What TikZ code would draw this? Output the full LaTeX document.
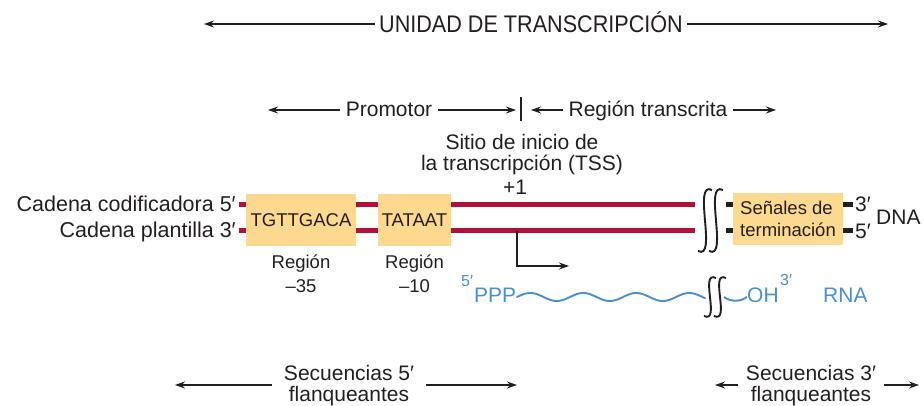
\documentclass[tikz,border=0pt]{standalone}
\usepackage{fontspec}
\setmainfont{Liberation Sans}
\usetikzlibrary{arrows.meta,decorations.pathmorphing}
\definecolor{dnared}{HTML}{B0103A}
\definecolor{boxfill}{HTML}{FDD88F}
\definecolor{rnablue}{HTML}{4A8FD0}
\definecolor{ink}{HTML}{231F20}
\begin{document}
\begin{tikzpicture}[x=1pt,y=-1pt,
  every node/.style={text=ink, inner sep=0pt},
  big/.style={font=\fontsize{21}{25}\selectfont},
  lab/.style={font=\fontsize{21.5}{25}\selectfont},
  mid/.style={font=\fontsize{18.5}{22}\selectfont},
  sup/.style={font=\fontsize{16}{18}\selectfont},
  arr/.style={-{Stealth[length=10pt,width=7pt]}, line width=1.1pt, draw=ink},
  strand/.style={line width=5pt, draw=dnared},
  seqbox/.style={fill=boxfill, minimum height=52pt, inner sep=0pt, font=\fontsize{18.5}{22}\selectfont},
  stub/.style={line width=5pt, draw=ink},
  brk/.style={line width=1.9pt, draw=ink},
  rnatext/.style={text=rnablue, font=\fontsize{21}{25}\selectfont},
  rnaline/.style={draw=rnablue, line width=1.9pt}]
\useasboundingbox (0,0) rectangle (924,406);

% ---- title ----
\node[font=\fontsize{24}{28}\selectfont, xscale=0.9, inner xsep=5pt, anchor=base] (title) at (531,33) {UNIDAD DE TRANSCRIPCIÓN};
\coordinate (tL) at (204,24);
\coordinate (tR) at (888,24);
\draw[arr] (title.west |- tL) -- (tL);
\draw[arr] (title.east |- tR) -- (tR);

% ---- promotor / region transcrita ----
\node[big, anchor=base, inner xsep=6pt] (prom) at (389,117) {Promotor};
\coordinate (pL) at (268,110);
\coordinate (pR) at (516,110);
\draw[arr] (prom.west |- pL) -- (pL);
\draw[arr] (prom.east |- pR) -- (pR);
\coordinate (barT) at (521,97);
\coordinate (barB) at (521,121);
\draw[line width=1.1pt, draw=ink] (barT) -- (barB);
\node[big, anchor=base, inner xsep=5pt] (rtr) at (648,117) {Región transcrita};
\coordinate (rL) at (531,110);
\coordinate (rR) at (776,110);
\draw[arr] (rtr.west |- rL) -- (rL);
\draw[arr] (rtr.east |- rR) -- (rR);

% ---- TSS ----
\node[big, anchor=base] (tss1) at (522,150) {Sitio de inicio de};
\node[big, anchor=base] (tss2) at (522,171) {la transcripción (TSS)};
\node[big, anchor=base] (plus) at (515,195) {+1};

% ---- DNA strands ----
\coordinate (c1L) at (239,205);
\coordinate (c1R) at (695,205);
\coordinate (c2L) at (239,231);
\coordinate (c2R) at (695,231);
\draw[strand] (c1L) -- (c1R);
\draw[strand] (c2L) -- (c2R);

\node[lab, anchor=base east] (lab1) at (236,212) {Cadena codificadora 5′};
\node[lab, anchor=base east] (lab2) at (236,238) {Cadena plantilla 3′};

\node[seqbox, minimum width=110pt] (b35) at (301,220) {TGTTGACA};
\node[seqbox, minimum width=73pt] (b10) at (414.5,220) {TATAAT};

\node[mid, anchor=base] (r35a) at (301,269) {Región};
\node[mid, anchor=base] (r35b) at (301,293) {–35};
\node[mid, anchor=base] (r10a) at (414.5,269) {Región};
\node[mid, anchor=base] (r10b) at (414.5,293) {–10};

% break on DNA
\foreach \c in {705,716}{
  \draw[brk] (\c+7,190) .. controls (\c-13,180) and (\c+13,261) .. (\c-7,251);
}

% termination box and stubs
\node[seqbox, minimum width=110pt, align=left, font=\fontsize{18.5}{22}\selectfont] (term) at (788,219) {Señales de\\terminación};
\coordinate (s1a) at (726,205);
\coordinate (s2a) at (726,231);
\coordinate (s1b) at (853,205);
\coordinate (s2b) at (853,231);
\draw[stub] (s1a) -- (term.west |- s1a);
\draw[stub] (s2a) -- (term.west |- s2a);
\draw[stub] (term.east |- s1b) -- (s1b);
\draw[stub] (term.east |- s2b) -- (s2b);
\node[big, anchor=base west] (e3) at (855,212) {3′};
\node[big, anchor=base west] (e5) at (855,239) {5′};
\node[big, anchor=base west] (dna) at (876,225) {DNA};

% ---- start arrow ----
\coordinate (st0) at (517,231);
\coordinate (st1) at (517,266);
\coordinate (st2) at (569,266);
\draw[arr] (st0) -- (st1) -- (st2);

% ---- RNA ----
\node[sup, text=rnablue, anchor=base west] (r5) at (461,287) {5′};
\node[rnatext, anchor=base west] (ppp) at (474,302) {PPP};
\draw[rnaline, line cap=round] plot[domain=0:188, samples=150, smooth] ({517+\x}, {297 - 4*sin(\x/53*360)});
\foreach \c in {710,720}{
  \draw[brk] (\c+6,278) .. controls (\c-11,270) and (\c+11,324) .. (\c-6,316);
}
\node[rnatext, anchor=base west] (oh) at (747,302) {OH};
\coordinate (w2) at (724,297);
\draw[rnaline] (w2) .. controls (731,302) and (740,302) .. (oh.west |- w2);
\node[sup, text=rnablue, anchor=base west] (r3) at (780,286) {3′};
\node[rnatext, anchor=base west] (rna) at (823,302) {RNA};

% ---- flanking ----
\node[big, anchor=base, inner xsep=12pt] (f5a) at (349,380) {Secuencias 5′};
\node[big, anchor=base] (f5b) at (349,401) {flanqueantes};
\coordinate (f5L) at (175,385);
\coordinate (f5R) at (517,385);
\draw[arr] (f5a.west |- f5L) -- (f5L);
\draw[arr] (f5a.east |- f5R) -- (f5R);

\node[big, anchor=base, inner xsep=8pt] (f3a) at (811,380) {Secuencias 3′};
\node[big, anchor=base] (f3b) at (811,401) {flanqueantes};
\coordinate (f3L) at (715,385);
\coordinate (f3R) at (919,385);
\draw[arr] (f3a.west |- f3L) -- (f3L);
\draw[arr] (f3a.east |- f3R) -- (f3R);
\end{tikzpicture}
\end{document}
